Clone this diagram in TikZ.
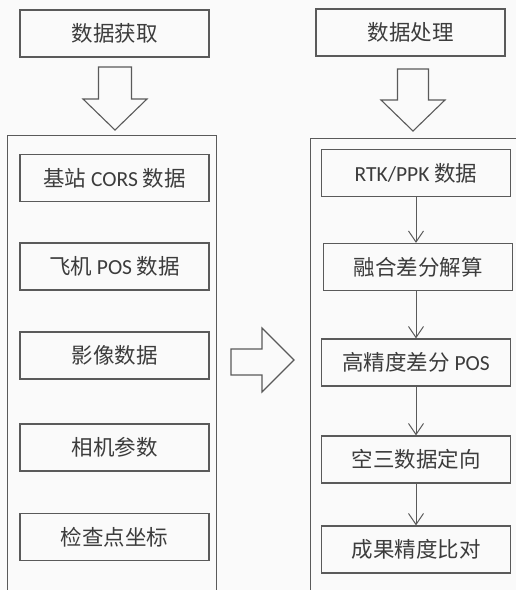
\documentclass[tikz,border=0pt]{standalone}
\usepackage{fontspec}
\setmainfont{Noto Sans CJK SC}
\newfontfamily\latin{Carlito}
\usetikzlibrary{arrows.meta}

\definecolor{linegray}{HTML}{5A5A5A}
\definecolor{textgray}{HTML}{3C3C3C}
\definecolor{paper}{HTML}{FAFAFA}
\newcommand{\lt}[1]{{\latin #1}}

\begin{document}
\begin{tikzpicture}[x=1pt, y=-1pt,
    box/.style={draw=linegray, line width=1.3pt, minimum width=189pt, minimum height=47pt,
                inner sep=0pt, text=textgray, font=\fontsize{21.5}{24}\selectfont},
    frame/.style={draw=linegray, line width=1.2pt, inner sep=0pt, anchor=north west},
    hollow/.style={draw=linegray, line width=1.1pt, line join=miter},
    flow/.style={draw=linegray, line width=1pt, -{Straight Barb[length=11pt, width=15pt, line width=1pt]}}]
    \fill[paper] (0,0) rectangle (516,590);
    \useasboundingbox (0,0) rectangle (516,590);
    \clip (0,0) rectangle (516,590);

    % headings
    \node[box] (fetch) at (114.5,33.5) {数据获取};
    \node[box] (proc) at (410.5,32.5) {数据处理};

    % outer frames
    \node[frame, minimum width=209pt, minimum height=480pt] (acquire) at (7,135) {};
    \node[frame, minimum width=230pt, minimum height=480pt] (process) at (310,138) {};

    % block arrows
    \draw[hollow] (98.5,67) -- (131.5,67) -- (131.5,99) -- (147,99) -- (115,130)
        -- (83,99) -- (98.5,99) -- cycle;
    \draw[hollow] (397.5,69) -- (428.5,69) -- (428.5,100) -- (445,100) -- (413,131)
        -- (381,100) -- (397.5,100) -- cycle;
    \draw[hollow] (231,349) -- (262,349) -- (262,328) -- (294,360) -- (262,392)
        -- (262,375) -- (231,375) -- cycle;

    % input data
    \node[box] (cors) at (114.5,178) {基站 \lt{CORS} 数据};
    \node[box] (pos) at (114.5,266.5) {飞机 \lt{POS} 数据};
    \node[box] (img) at (114.5,355.5) {影像数据};
    \node[box] (cam) at (114.5,447.5) {相机参数};
    \node[box] (check) at (114.5,537) {检查点坐标};

    % processing chain
    \node[box] (rtk) at (416,173) {\lt{RTK/PPK} 数据};
    \node[box] (fuse) at (418,267) {融合差分解算};
    \node[box] (dpos) at (416,362.5) {高精度差分 \lt{POS}};
    \node[box] (aero) at (416,459.5) {空三数据定向};
    \node[box] (comp) at (416,549.5) {成果精度比对};

    \draw[flow] (rtk.south -| 416,0) -- (fuse.north -| 416,0);
    \draw[flow] (fuse.south -| 416,0) -- (dpos.north -| 416,0);
    \draw[flow] (dpos) -- (aero);
    \draw[flow] (aero) -- (comp);
\end{tikzpicture}
\end{document}
